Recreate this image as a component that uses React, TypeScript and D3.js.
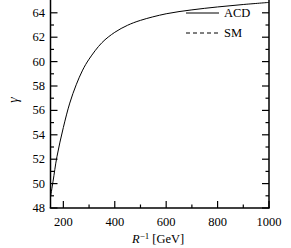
import React from "react";
import * as d3 from "d3";

const rInv = [150, 160, 175, 200, 225, 250, 275, 300, 350, 400, 450, 500, 600, 700, 800, 900, 1000];
const gammaACD = [48.9, 50.2, 52.2, 54.6, 56.6, 58.1, 59.3, 60.2, 61.55, 62.4, 62.98, 63.38, 63.92, 64.24, 64.48, 64.68, 64.85];
const xMajor = [200, 400, 600, 800, 1000];
const xMinor = [300, 500, 700, 900];
const yMajor = [48, 50, 52, 54, 56, 58, 60, 62, 64];
const yMinor = [49, 51, 53, 55, 57, 59, 61, 63];
const legendLabels = ["ACD", "SM"];

const W = 291, H = 248;
const left = 50.5, right = 269, bottom = 208, top = 0;

export default function App() {
  const x = d3.scaleLinear().domain([150, 1000]).range([left, right]);
  const y = d3.scaleLinear().domain([48, 64]).range([bottom, 12.8]);
  const line = d3
    .line<number>()
    .x((_, i) => x(rInv[i]))
    .y((d) => y(d))
    .curve(d3.curveCatmullRom.alpha(0.5));
  const font = "'Liberation Serif', 'DejaVu Serif', serif";
  const fs = 12.5;
  return (
    <svg
      width={W}
      height={H}
      style={{ position: "absolute", left: 0, top: 0, background: "#fff" }}
      fontFamily={font}
    >
      <defs>
        <clipPath id="plot">
          <rect x={left} y={top} width={right - left} height={bottom - top} />
        </clipPath>
      </defs>
      <path d={line(gammaACD) || ""} fill="none" stroke="#000" strokeWidth={1} clipPath="url(#plot)" />
      <line x1={left} x2={left} y1={top} y2={bottom} stroke="#000" strokeWidth={1.5} />
      <line x1={right} x2={right} y1={top} y2={bottom} stroke="#000" strokeWidth={1.5} />
      <line x1={left - 0.75} x2={right + 0.75} y1={bottom} y2={bottom} stroke="#000" strokeWidth={1.5} />
      {yMajor.map((v) => (
        <g key={"ym" + v}>
          <line x1={left} x2={left + 7} y1={y(v)} y2={y(v)} stroke="#000" strokeWidth={1.2} />
          <line x1={right} x2={right - 7} y1={y(v)} y2={y(v)} stroke="#000" strokeWidth={1.2} />
          <text x={45} y={y(v) + 4} textAnchor="end" fontSize={fs}>
            {v}
          </text>
        </g>
      ))}
      {yMinor.map((v) => (
        <g key={"yn" + v}>
          <line x1={left} x2={left + 3.5} y1={y(v)} y2={y(v)} stroke="#000" strokeWidth={1.2} />
          <line x1={right} x2={right - 3.5} y1={y(v)} y2={y(v)} stroke="#000" strokeWidth={1.2} />
        </g>
      ))}
      {xMajor.map((v) => (
        <g key={"xm" + v}>
          <line x1={x(v)} x2={x(v)} y1={bottom} y2={bottom - 7} stroke="#000" strokeWidth={1.2} />
          <text x={x(v)} y={225.5} textAnchor="middle" fontSize={fs}>
            {v}
          </text>
        </g>
      ))}
      {xMinor.map((v) => (
        <line key={"xn" + v} x1={x(v)} x2={x(v)} y1={bottom} y2={bottom - 3.5} stroke="#000" strokeWidth={1.2} />
      ))}
      <line x1={186} x2={219} y1={13} y2={13} stroke="#000" strokeWidth={1} />
      <text x={224} y={17} fontSize={fs}>
        {legendLabels[0]}
      </text>
      <line x1={186} x2={219} y1={33} y2={33} stroke="#000" strokeWidth={1} strokeDasharray="4,3" />
      <text x={224} y={36.5} fontSize={fs}>
        {legendLabels[1]}
      </text>
      <text transform="translate(18,100) rotate(-90)" textAnchor="middle" fontSize={14} fontStyle="italic">
        γ
      </text>
      <text x={132} y={243} fontSize={fs}>
        <tspan fontStyle="italic">R</tspan>
        <tspan dy={-4.5} fontSize={9}>−1</tspan>
        <tspan dy={4.5}>{"\u00a0[GeV]"}</tspan>
      </text>
    </svg>
  );
}
